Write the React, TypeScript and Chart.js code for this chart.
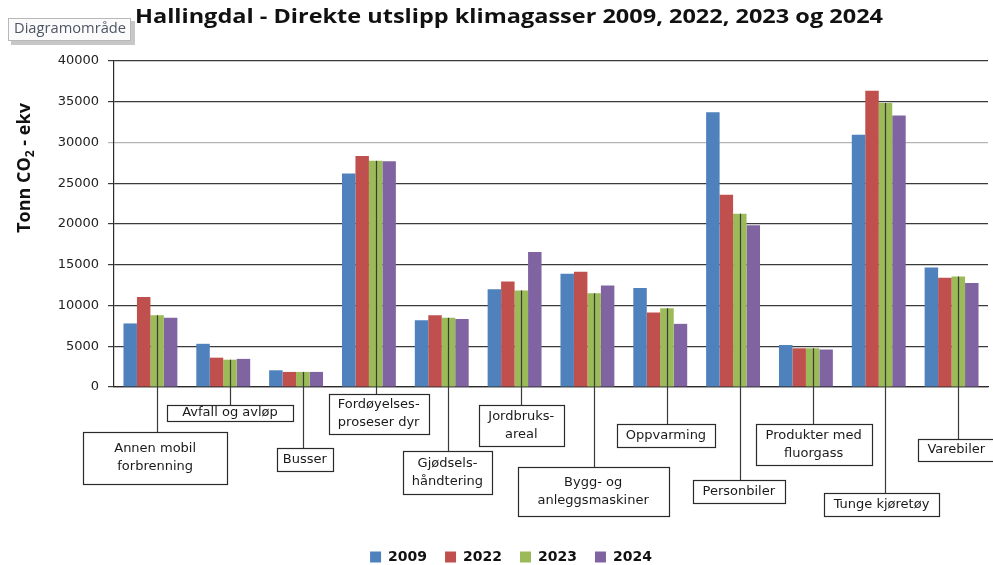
import { useEffect, useRef } from "react";
import { Chart, registerables } from "chart.js";

Chart.register(...registerables);

// ---- data ----
const categories: string[][] = [
  ["Annen mobil", "forbrenning"],
  ["Avfall og avløp"],
  ["Busser"],
  ["Fordøyelses-", "proseser dyr"],
  ["Gjødsels-", "håndtering"],
  ["Jordbruks-", "areal"],
  ["Bygg- og", "anleggsmaskiner"],
  ["Oppvarming"],
  ["Personbiler"],
  ["Produkter med", "fluorgass"],
  ["Tunge kjøretøy"],
  ["Varebiler"],
];
const seriesNames = ["2009", "2022", "2023", "2024"];
const values2009 = [7800, 5300, 2050, 26200, 8200, 12000, 13900, 12150, 33700, 5150, 30950, 14650];
const values2022 = [11050, 3600, 1850, 28350, 8800, 12950, 14150, 9150, 23600, 4750, 36350, 13400];
const values2023 = [8800, 3350, 1850, 27750, 8500, 11850, 11500, 9650, 21250, 4750, 34850, 13550];
const values2024 = [8500, 3450, 1850, 27700, 8350, 16550, 12450, 7750, 19850, 4600, 33300, 12750];
const yTickMin = 0;
const yTickMax = 40000;
const yTickStep = 5000;
const titleText = "Hallingdal - Direkte utslipp klimagasser 2009, 2022, 2023 og 2024";
const tooltipText = "Diagramområde";

// ---- callout layout (relative to green bar / x axis) ----
const boxDx = [-2, 0, 2, 3, -1, 0, -1, -1, -1, 1, -4, -2];
const boxTop = [45, 18, 61, 7, 64, 18, 80, 37, 93, 37, 106, 52];
const boxW = [144, 126, 56, 100, 89, 85, 151, 98, 92, 116, 115, 76];
const boxH = [52, 16, 23, 40, 43, 41, 49, 23, 23, 41, 23, 22];

const colors = ["#4F81BD", "#C0504D", "#9BBB59", "#8064A2"];

function stretchedText(ctx: CanvasRenderingContext2D, text: string, cx: number, cy: number, targetW: number) {
  const w = ctx.measureText(text).width;
  const sx = targetW / w;
  ctx.save();
  ctx.translate(cx, cy);
  ctx.scale(sx, 1);
  ctx.textAlign = "center";
  ctx.fillText(text, 0, 0);
  ctx.restore();
}

const decorPlugin = {
  id: "decor",
  afterDraw(chart: any) {
    const ctx: CanvasRenderingContext2D = chart.ctx;
    const area = chart.chartArea;
    ctx.save();
    // title
    ctx.fillStyle = "#111";
    ctx.font = "bold 20px 'Open Sans'";
    ctx.textBaseline = "middle";
    stretchedText(ctx, titleText, 509, 17, 748);

    // tooltip-like box
    ctx.fillStyle = "rgba(0,0,0,0.22)";
    ctx.fillRect(11, 21, 124, 24);
    ctx.fillStyle = "#fbfbfb";
    ctx.fillRect(8, 18, 123, 23);
    ctx.strokeStyle = "#b8b8b8";
    ctx.lineWidth = 1;
    ctx.strokeRect(8.5, 18.5, 122, 22);
    ctx.fillStyle = "#4c5665";
    ctx.font = "14px 'Open Sans'";
    stretchedText(ctx, tooltipText, 70, 29, 112);

    // y axis title with subscript
    ctx.save();
    ctx.translate(24, 168);
    ctx.rotate(-Math.PI / 2);
    ctx.fillStyle = "#111";
    const big = "bold 18px 'Open Sans'";
    const small = "bold 12px 'Open Sans'";
    const p1 = "Tonn CO";
    const p2 = "2";
    const p3 = " - ekv";
    ctx.font = big;
    const w1 = ctx.measureText(p1).width;
    const w3 = ctx.measureText(p3).width;
    ctx.font = small;
    const w2 = ctx.measureText(p2).width;
    const total = w1 + w2 + w3;
    let x = -total / 2;
    ctx.textAlign = "left";
    ctx.textBaseline = "alphabetic";
    ctx.font = big;
    ctx.fillText(p1, x, 6);
    x += w1;
    ctx.font = small;
    ctx.fillText(p2, x, 10);
    x += w2;
    ctx.font = big;
    ctx.fillText(p3, x, 6);
    ctx.restore();

    // callouts
    const meta = chart.getDatasetMeta(2);
    ctx.font = "13px 'DejaVu Sans'";
    ctx.textAlign = "center";
    ctx.textBaseline = "middle";
    categories.forEach((lines, i) => {
      const el = meta.data[i];
      if (!el) return;
      const lx = Math.round(el.x) + 0.5;
      const top = area.bottom + boxTop[i];
      ctx.strokeStyle = "#3a3a3a";
      ctx.lineWidth = 1.2;
      ctx.beginPath();
      ctx.moveTo(lx, el.y);
      ctx.lineTo(lx, top);
      ctx.stroke();
      const cx = el.x + boxDx[i];
      const left = Math.round(cx - boxW[i] / 2) + 0.5;
      ctx.fillStyle = "#ffffff";
      ctx.fillRect(left, top + 0.5, boxW[i], boxH[i]);
      ctx.strokeStyle = "#2a2a2a";
      ctx.lineWidth = 1.2;
      ctx.strokeRect(left, Math.round(top) + 0.5, boxW[i], boxH[i]);
      ctx.fillStyle = "#1a1a1a";
      const lh = 18;
      const cy = top + boxH[i] / 2;
      lines.forEach((t, k) => {
        ctx.fillText(t, cx, cy + (k - (lines.length - 1) / 2) * lh);
      });
    });
    ctx.restore();
  },
};

export default function App() {
  const ref = useRef<HTMLCanvasElement | null>(null);
  useEffect(() => {
    if (!ref.current) return;
    const chart = new Chart(ref.current, {
      type: "bar",
      data: {
        labels: categories.map((l) => l.join(" ")),
        datasets: [values2009, values2022, values2023, values2024].map((d, i) => ({
          label: seriesNames[i],
          data: d,
          backgroundColor: colors[i],
          borderWidth: 0,
          categoryPercentage: 0.74,
          barPercentage: 1.0,
        })),
      },
      options: {
        animation: false,
        responsive: true,
        maintainAspectRatio: false,
        layout: { padding: { left: 34, right: 5, top: 61, bottom: -9 } },
        plugins: {
          title: { display: false },
          tooltip: { enabled: false },
          legend: {
            position: "bottom",
            labels: {
              boxWidth: 11,
              boxHeight: 11,
              padding: 18,
              color: "#111",
              font: { family: "'DejaVu Sans'", size: 14, weight: "bold" },
            },
          },
        },
        scales: {
          x: {
            ticks: { display: false },
            grid: { display: false },
            border: { display: true, color: "#2a2a2a", width: 1.2 },
            afterFit(scale: any) {
              scale.height = 145;
            },
          },
          y: {
            min: yTickMin,
            max: yTickMax,
            ticks: {
              stepSize: yTickStep,
              padding: 9,
              color: "#222",
              font: { family: "'DejaVu Sans'", size: 13 },
              callback: (v: any) => String(v),
            },
            grid: {
              color: (c: any) => (c.tick && c.tick.value === 30000 ? "#b5b5b5" : "#3a3a3a"),
              lineWidth: 1.2,
              tickLength: 6,
              drawTicks: true,
            },
            border: { display: true, color: "#2a2a2a", width: 1.2 },
            afterFit(scale: any) {
              scale.width = 80;
            },
          },
        },
      },
      plugins: [decorPlugin],
    });
    return () => chart.destroy();
  }, []);
  return (
    <div style={{ position: "absolute", left: 0, top: 0, width: 993, height: 565, background: "#fff" }}>
      <canvas ref={ref} />
    </div>
  );
}
